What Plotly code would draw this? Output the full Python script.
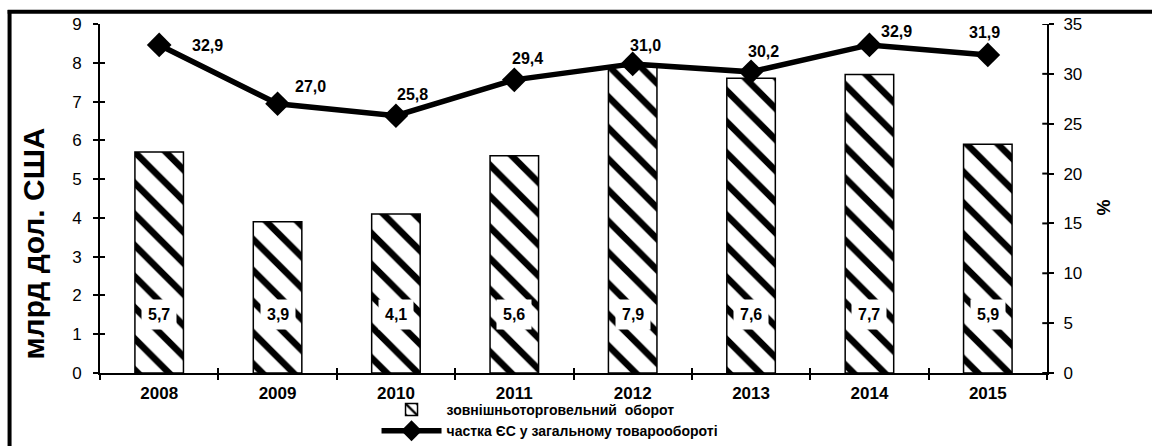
import plotly.graph_objects as go

years = ["2008", "2009", "2010", "2011", "2012", "2013", "2014", "2015"]
turnover = [5.7, 3.9, 4.1, 5.6, 7.9, 7.6, 7.7, 5.9]
eu_share = [32.9, 27.0, 25.8, 29.4, 31.0, 30.2, 32.9, 31.9]
turnover_labels = ["5,7", "3,9", "4,1", "5,6", "7,9", "7,6", "7,7", "5,9"]
share_labels = ["32,9", "27,0", "25,8", "29,4", "31,0", "30,2", "32,9", "31,9"]
# label offsets (px) for the share labels
share_dx = [48, 33, 17, 13, 13, 12, 27, -3]
share_dy = [-1, 17, 21, 21, 18, 20, 13, 22]

left_ticks = list(range(0, 10))
right_ticks = list(range(0, 40, 5))

bar_name = "зовнішньоторговельний  оборот"
line_name = "частка ЄС у загальному товарообороті"

FONT = "Liberation Sans, Arial, sans-serif"

fig = go.Figure()
fig.add_trace(go.Bar(
    x=years, y=turnover, name=bar_name, width=0.41,
    marker=dict(color="white", line=dict(color="black", width=1.5),
                pattern=dict(shape="\\", size=22, solidity=0.3,
                             fgcolor="black", bgcolor="white", fillmode="replace")),
    yaxis="y", xaxis="x", hoverinfo="skip",
))
fig.add_trace(go.Scatter(
    x=years, y=eu_share, name=line_name, mode="lines+markers",
    line=dict(color="black", width=5.5),
    marker=dict(symbol="diamond", size=19, color="black"),
    yaxis="y2", xaxis="x", hoverinfo="skip",
))
# invisible helper trace for crossing ticks
fig.add_trace(go.Scatter(x=years, y=turnover, mode="none", showlegend=False,
                         hoverinfo="skip", xaxis="x2", yaxis="y3"))

annotations = []
for i, lab in enumerate(turnover_labels):
    annotations.append(dict(x=i, y=1.5, xref="x", yref="y", text=f"<b>{lab}</b>",
                            showarrow=False, bgcolor="white", borderpad=6,
                            font=dict(family=FONT, size=16, color="black")))
for i, (v, lab, dx, dy) in enumerate(zip(eu_share, share_labels, share_dx, share_dy)):
    annotations.append(dict(x=i, y=v, xref="x", yref="y2", text=f"<b>{lab}</b>",
                            showarrow=False, xshift=dx, yshift=dy, xanchor="center",
                            font=dict(family=FONT, size=16, color="black")))
annotations.append(dict(x=-0.07, y=0.37, xref="paper", yref="paper", text="<b>млрд дол. США</b>",
                        showarrow=False, textangle=-90, xanchor="center", yanchor="middle",
                        font=dict(family=FONT, size=30, color="black")))
annotations.append(dict(x=1.0605, y=0.475, xref="paper", yref="paper", text="<b>%</b>",
                        showarrow=False, textangle=-90, xanchor="center", yanchor="middle",
                        font=dict(family=FONT, size=18, color="black")))

fig.update_layout(
    width=1152, height=446, autosize=False,
    margin=dict(l=100, r=105, t=24, b=73, autoexpand=False),
    paper_bgcolor="white", plot_bgcolor="white",
    font=dict(family=FONT, color="black"),
    showlegend=True,
    legend=dict(x=0.292, y=-0.06, xanchor="left", yanchor="top", orientation="v",
                font=dict(family=FONT, size=14, color="black", weight="bold"), itemwidth=60,
                tracegroupgap=0, bgcolor="rgba(0,0,0,0)"),
    xaxis=dict(type="category", categoryarray=years, range=[-0.5, 7.5],
               showline=True, linecolor="black", linewidth=2,
               ticks="outside", ticklen=5, tickwidth=2, tickcolor="black",
               tickson="boundaries", showgrid=False, zeroline=False,
               ticklabelstandoff=4,
               tickfont=dict(family=FONT, size=17, color="black", weight="bold"),
               fixedrange=True),
    xaxis2=dict(type="category", categoryarray=years, range=[-0.5, 7.5], overlaying="x",
                side="bottom", showline=False, ticks="inside", ticklen=5, tickwidth=2,
                tickcolor="black", tickson="boundaries", showticklabels=False,
                showgrid=False, zeroline=False),
    yaxis=dict(range=[0, 9], tickvals=left_ticks, showline=True, linecolor="black", linewidth=2,
               ticks="outside", ticklen=5, tickwidth=2, tickcolor="black",
               showgrid=False, zeroline=False, ticklabelstandoff=8,
               tickfont=dict(family=FONT, size=17, color="black")),
    yaxis3=dict(range=[0, 9], tickvals=left_ticks, overlaying="y", side="left",
                showline=False, ticks="inside", ticklen=5, tickwidth=2, tickcolor="black",
                showticklabels=False, showgrid=False, zeroline=False),
    yaxis2=dict(range=[0, 35], tickvals=right_ticks, overlaying="y", side="right",
                showline=True, linecolor="black", linewidth=2,
                ticks="outside", ticklen=5, tickwidth=2, tickcolor="black",
                showgrid=False, zeroline=False, ticklabelstandoff=6,
                tickfont=dict(family=FONT, size=17, color="black")),
    annotations=annotations,
    shapes=[
        dict(type="line", xref="paper", yref="paper", x0=-0.0975, x1=1.12, y0=1.035, y1=1.035,
             line=dict(color="black", width=4)),
        dict(type="line", xref="paper", yref="paper", x0=-0.0955, x1=-0.0955, y0=1.04, y1=-0.25,
             line=dict(color="black", width=4)),
    ],
)
# right axis crossing ticks via shapes on y2 (drawn at tick values)
for t in right_ticks:
    fig.add_shape(type="line", xref="paper", yref="y2", x0=1.0, x1=0.995, y0=t, y1=t,
                  line=dict(color="black", width=2))

fig.write_html("out.html", config={"displayModeBar": False},
               post_script="document.body.style.margin='0';document.body.style.overflow='hidden';")
